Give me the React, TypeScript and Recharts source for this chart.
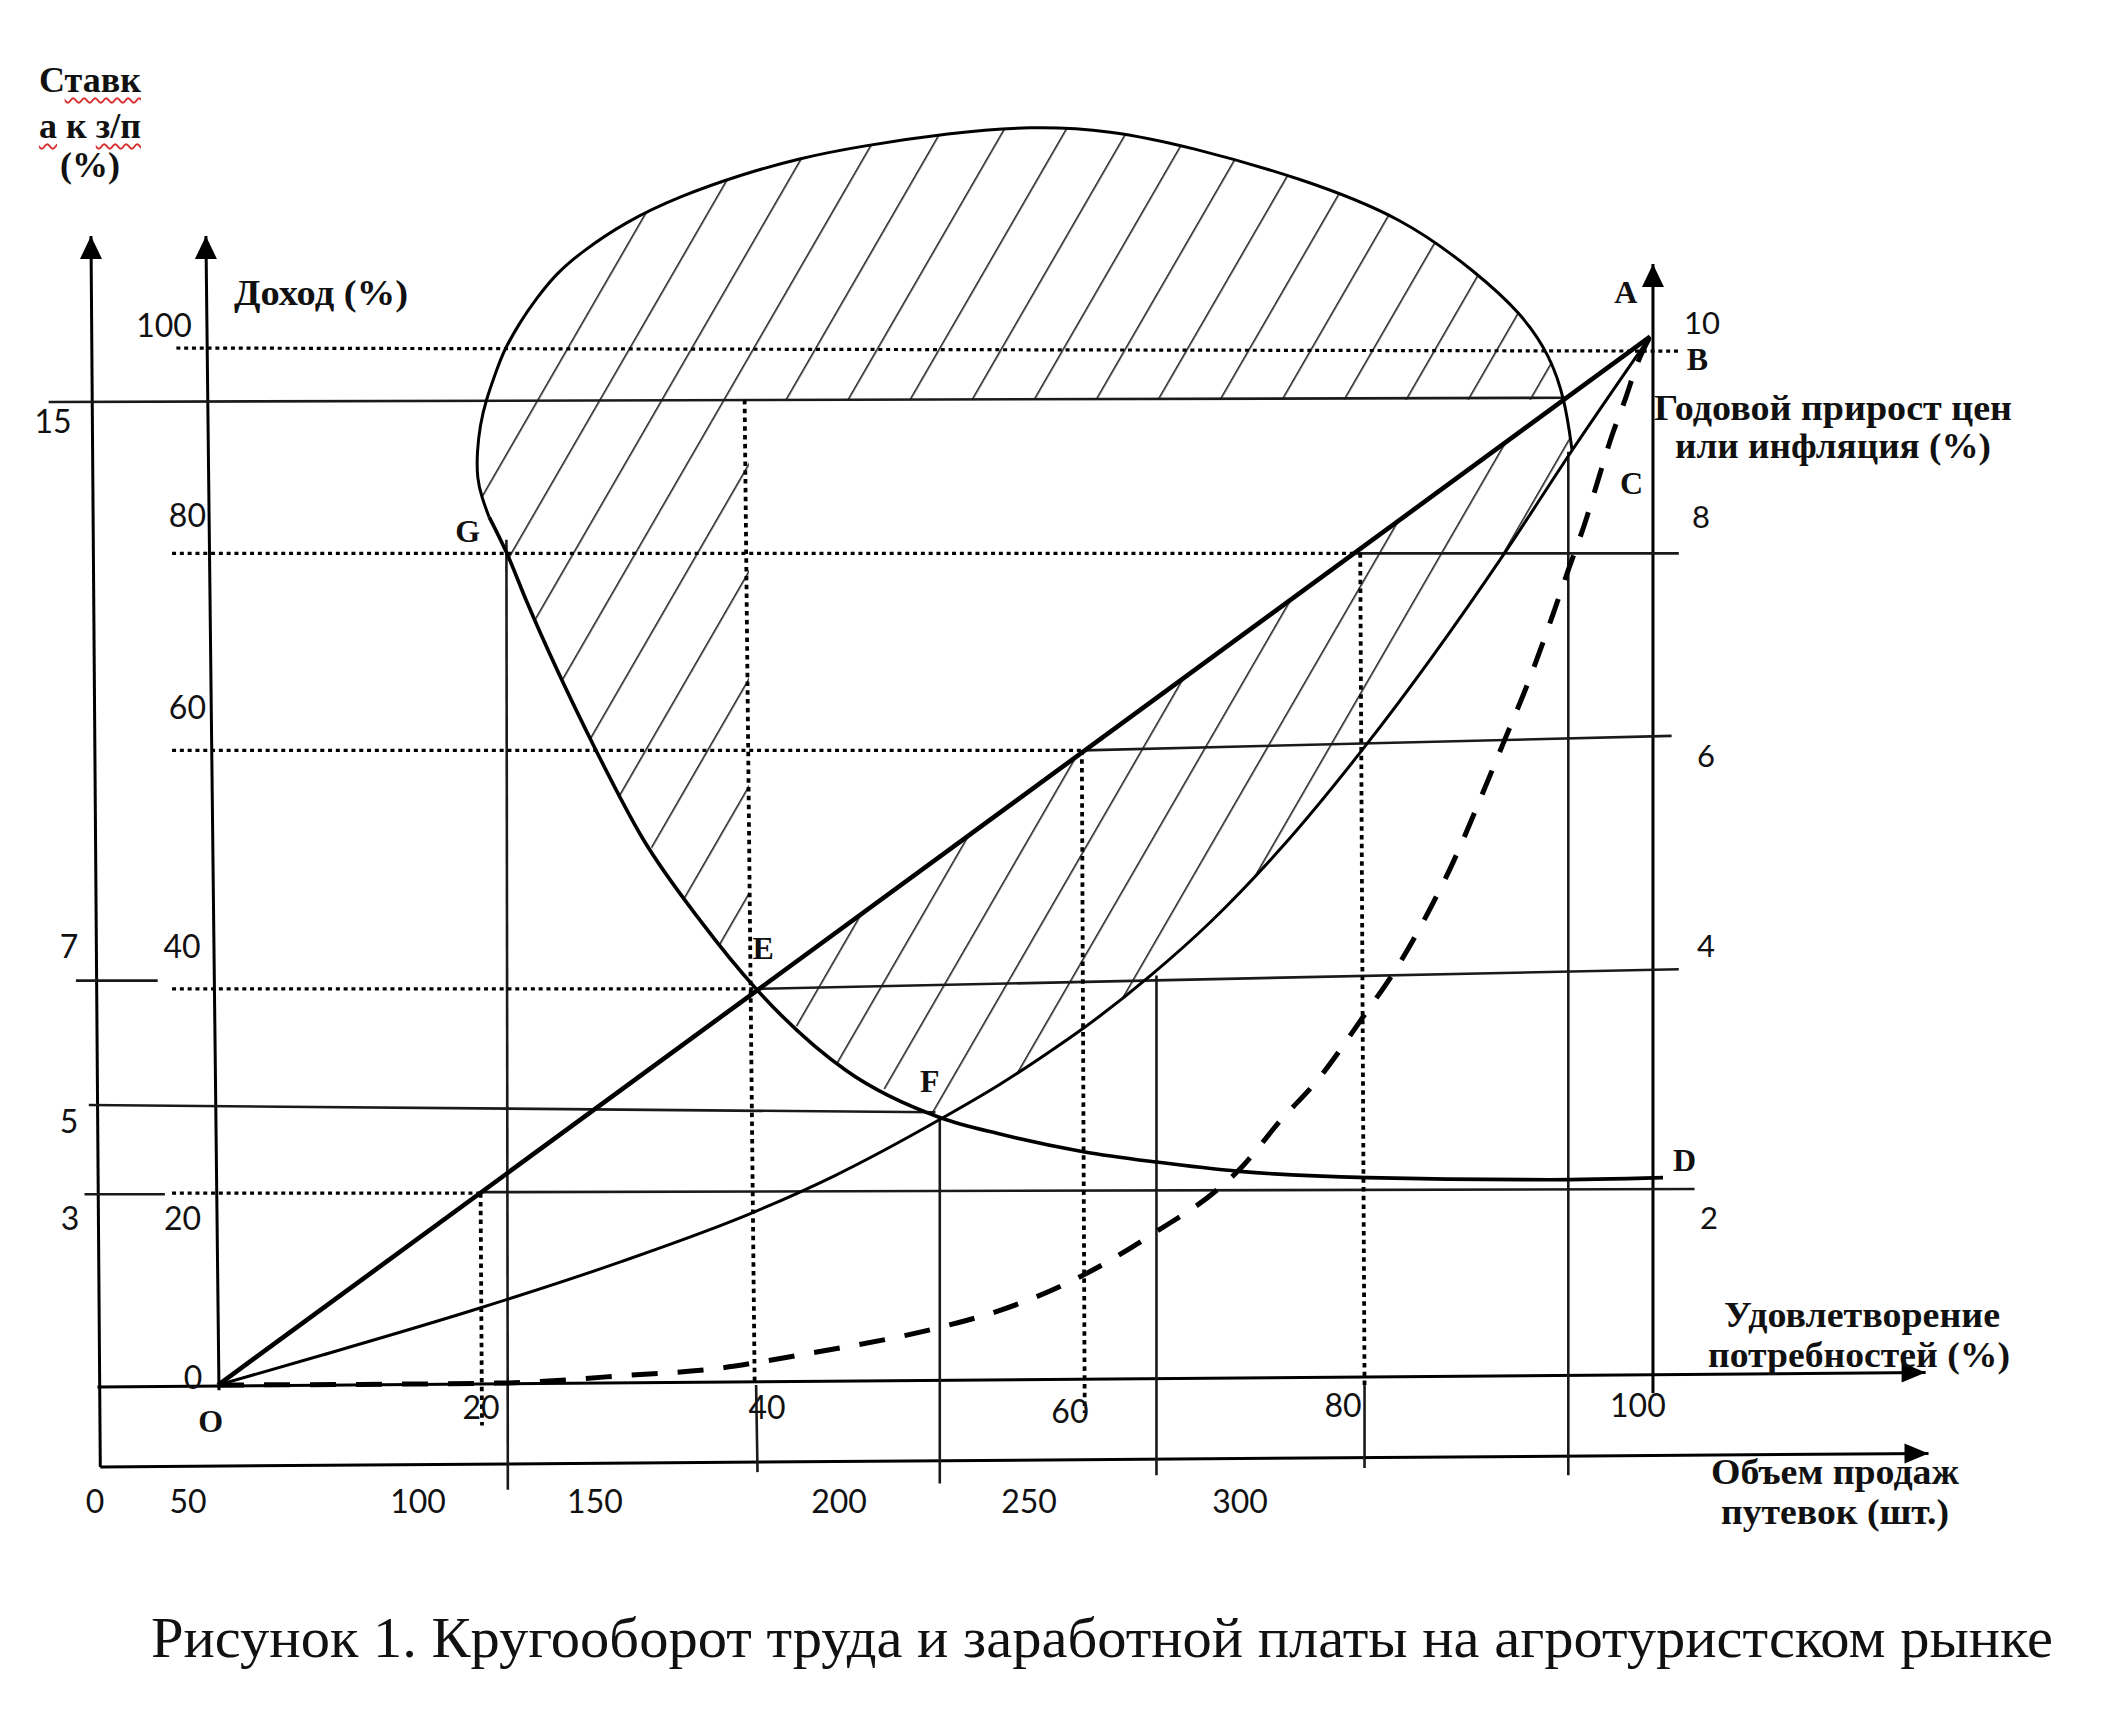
import React from 'react'
import { ComposedChart, XAxis, YAxis, Line, Area, Scatter, ReferenceLine } from 'recharts'

const W = 2105
const H = 1709
// drawing window in chart units: x = удовлетворение потребностей (%), y = доход (%)
const X_DOMAIN: [number, number] = [-15.19, 131.5]
const Y_DOMAIN: [number, number] = [-31.24, 133.56]

// O – A, straight
const lineOA = [{ x: 0, y: 0 }, { x: 99.8, y: 101.1 }]

// O – F – C – A
const curveOFA = [
  { x: 0, y: 0 }, { x: 6.8, y: 2.7 }, { x: 18.2, y: 7.4 }, { x: 28.1, y: 11.9 },
  { x: 37.4, y: 16.7 }, { x: 43.0, y: 20.2 }, { x: 50.3, y: 25.6 }, { x: 54.5, y: 29.0 },
  { x: 57.7, y: 31.9 }, { x: 60.3, y: 34.4 }, { x: 65.0, y: 39.5 }, { x: 69.2, y: 44.7 },
  { x: 74.1, y: 51.8 }, { x: 80.0, y: 61.7 }, { x: 89.6, y: 80.1 }, { x: 94.3, y: 90.0 },
  { x: 99.8, y: 101.1 },
]

// dashed O – B (inflation)
const curveDashed = [
  { x: 0, y: 0 }, { x: 20.1, y: 0.2 }, { x: 24.3, y: 0.5 }, { x: 28.1, y: 0.9 },
  { x: 34.8, y: 1.6 }, { x: 37.7, y: 2.2 }, { x: 40.6, y: 2.9 }, { x: 50.7, y: 5.7 },
  { x: 54.5, y: 7.2 }, { x: 60.3, y: 10.6 }, { x: 65.4, y: 14.8 }, { x: 69.7, y: 18.9 },
  { x: 71.2, y: 20.8 }, { x: 74.1, y: 25.6 }, { x: 76.5, y: 29.2 }, { x: 80.1, y: 36.1 },
  { x: 81.9, y: 39.7 }, { x: 83.8, y: 44.2 }, { x: 86.1, y: 50.5 }, { x: 88.2, y: 57.3 },
  { x: 89.6, y: 62.0 }, { x: 91.4, y: 68.1 }, { x: 93.0, y: 74.2 }, { x: 94.1, y: 78.6 },
  { x: 95.3, y: 83.3 }, { x: 96.2, y: 87.4 }, { x: 97.2, y: 91.8 }, { x: 98.0, y: 94.8 },
  { x: 99.0, y: 98.8 }, { x: 99.8, y: 101.1 },
]

// G – E – F – D
const curveGD = [
  { x: 18.9, y: 83.7 }, { x: 20.1, y: 80.3 }, { x: 21.5, y: 75.6 }, { x: 26.2, y: 61.6 },
  { x: 29.6, y: 52.7 }, { x: 33.6, y: 44.8 }, { x: 37.5, y: 38.2 }, { x: 43.8, y: 30.3 },
  { x: 50.3, y: 25.8 }, { x: 54.5, y: 24.2 }, { x: 60.3, y: 22.5 }, { x: 65.4, y: 21.5 },
  { x: 71.2, y: 20.6 }, { x: 80.1, y: 20.0 }, { x: 92.8, y: 19.8 }, { x: 100.7, y: 20.0 },
]

// the loop from G over the top down to the curve O–F–A
const loop = [
  { x: 18.89, y: 83.7 }, { x: 18.4, y: 85.54 }, { x: 18.05, y: 87.37 }, { x: 18.05, y: 89.97 },
  { x: 18.26, y: 92.57 }, { x: 18.68, y: 94.99 }, { x: 19.37, y: 97.69 }, { x: 19.93, y: 99.81 },
  { x: 21.05, y: 102.51 }, { x: 22.16, y: 104.73 }, { x: 23.55, y: 107.14 }, { x: 25.23, y: 109.16 },
  { x: 28.36, y: 112.15 }, { x: 32.2, y: 114.66 }, { x: 36.59, y: 116.78 }, { x: 40.56, y: 118.32 },
  { x: 44.81, y: 119.48 }, { x: 50.94, y: 120.73 }, { x: 56.59, y: 121.41 }, { x: 62.16, y: 121.02 },
  { x: 67.8, y: 119.38 }, { x: 75.47, y: 116.39 }, { x: 82.65, y: 112.54 }, { x: 87.74, y: 107.23 },
  { x: 90.8, y: 103.38 }, { x: 92.82, y: 99.32 }, { x: 93.87, y: 94.98 }, { x: 94.36, y: 90.16 },
]

// hatched zones as [low, high]
const hatchTop = [
  { x: 18.05, r: [87.4, 90.0] }, { x: 18.26, r: [86.3, 92.6] }, { x: 18.68, r: [84.5, 95.0] },
  { x: 18.89, r: [83.7, 95.8] }, { x: 19.37, r: [82.4, 97.7] }, { x: 19.93, r: [80.8, 99.8] },
  { x: 21.05, r: [77.1, 102.5] }, { x: 22.16, r: [73.8, 104.7] }, { x: 23.83, r: [68.8, 107.5] },
  { x: 25.57, r: [63.5, 109.5] }, { x: 28.36, r: [56.0, 112.1] }, { x: 31.01, r: [50.0, 113.9] },
  { x: 33.59, r: [44.8, 115.3] }, { x: 36.59, r: [39.7, 116.7] }, { x: 37.0, r: [39.1, 116.9] },
  { x: 37.0, r: [95.0, 116.9] }, { x: 40.56, r: [95.0, 118.2] }, { x: 44.81, r: [95.0, 119.4] },
  { x: 50.94, r: [95.0, 120.6] }, { x: 56.59, r: [95.0, 121.3] }, { x: 62.16, r: [95.0, 120.9] },
  { x: 67.8, r: [95.0, 119.3] }, { x: 75.47, r: [95.0, 116.3] }, { x: 82.65, r: [95.0, 112.4] },
  { x: 87.74, r: [95.0, 107.1] }, { x: 90.8, r: [95.0, 103.3] }, { x: 92.82, r: [95.0, 99.3] },
  { x: 93.87, r: [95.0, 95.0] },
]
const hatchStrip = [
  { x: 37.49, r: [38.2, 38.2] }, { x: 40.56, r: [34.3, 41.1] }, { x: 43.83, r: [30.3, 44.4] },
  { x: 47.53, r: [27.8, 48.1] }, { x: 50.31, r: [25.8, 50.9] }, { x: 54.49, r: [29.0, 55.2] },
  { x: 60.35, r: [34.4, 61.1] }, { x: 65.02, r: [39.5, 65.9] }, { x: 69.2, r: [44.7, 70.1] },
  { x: 74.08, r: [51.8, 75.0] }, { x: 80.0, r: [61.7, 81.0] }, { x: 84.81, r: [70.9, 85.9] },
  { x: 89.62, r: [80.1, 90.7] }, { x: 92.13, r: [85.3, 93.2] }, { x: 93.66, r: [88.5, 94.9] },
  { x: 94.29, r: [90.0, 90.0] },
]

// [x1, y1, x2, y2]
const axisLines = [
  [-8.2, -7.9, -8.85, 110.8],
  [0.07, -0.5, -0.84, 110.8],
  [100, -0.8, 100, 108.1],
  [-8.4, -0.2, 119.0, 1.2],
  [-8.2, -7.9, 119.2, -6.6],
]
const solidLines = [
  [-11.8, 94.8, 93.9, 95.2],
  [79.3, 80.2, 101.8, 80.2],
  [60.3, 61.2, 101.3, 62.6],
  [37.5, 38.2, 101.8, 40.1],
  [18.3, 18.6, 102.9, 18.9],
  [-9.0, 27.0, 50.0, 26.3],
  [-9.9, 39.0, -4.2, 39.0],
  [-9.3, 18.4, -3.7, 18.4],
  [20.1, 81.5, 20.2, -10.1],
  [37.5, 0, 37.6, -8.4],
  [50.3, 25.8, 50.3, -9.5],
  [65.4, 39.5, 65.4, -8.7],
  [79.9, 0, 79.9, -8.0],
  [94.1, 90.0, 94.1, -8.7],
]
const dottedH = [
  [-2.9, 100, 101.8, 99.7],
  [-3.2, 80.2, 79.3, 80.2],
  [-3.2, 61.2, 60.3, 61.2],
  [-3.2, 38.2, 37.5, 38.2],
  [-3.2, 18.5, 18.3, 18.5],
]
const dottedV = [
  [18.3, 18.5, 18.4, -3.9],
  [36.7, 95.0, 37.4, 0],
  [60.2, 61.2, 60.4, -2.7],
  [79.6, 80.2, 79.9, 0],
]
const arrowTips = [
  { x: -8.85, y: 110.8, d: 'up' },
  { x: -0.84, y: 110.8, d: 'up' },
  { x: 100, y: 108.1, d: 'up' },
  { x: 119.0, y: 1.2, d: 'right' },
  { x: 119.2, y: -6.6, d: 'right' },
]

// tick labels (where they sit on the drawing)
const incomeTicks = [
  { t: '100', x: -3.76, y: 102.3 }, { t: '80', x: -2.13, y: 83.9 }, { t: '60', x: -2.13, y: 65.4 },
  { t: '40', x: -2.51, y: 42.4 }, { t: '20', x: -2.47, y: 16.2 }, { t: '0', x: -1.74, y: 0.8 },
]
const rateTicks = [
  { t: '15', x: -11.5, y: 93.0 }, { t: '7', x: -10.38, y: 42.4 },
  { t: '5', x: -10.38, y: 25.5 }, { t: '3', x: -10.31, y: 16.2 },
]
const inflationTicks = [
  { t: '10', x: 103.41, y: 102.5 }, { t: '8', x: 103.34, y: 83.8 }, { t: '6', x: 103.69, y: 60.8 },
  { t: '4', x: 103.69, y: 42.4 }, { t: '2', x: 103.9, y: 16.2 },
]
const needTicks = [
  { t: '20', x: 18.33, y: -2.1 }, { t: '40', x: 38.26, y: -2.1 }, { t: '60', x: 59.37, y: -2.5 },
  { t: '80', x: 78.4, y: -1.9 }, { t: '100', x: 98.95, y: -1.9 },
]
const salesTicks = [
  { t: '0', x: -8.57, y: -11.09 }, { t: '50', x: -2.09, y: -11.09 }, { t: '100', x: 13.94, y: -11.09 },
  { t: '150', x: 26.27, y: -11.09 }, { t: '200', x: 43.28, y: -11.09 }, { t: '250', x: 56.52, y: -11.09 },
  { t: '300', x: 71.22, y: -11.09 },
]
const pointNames = [
  { t: 'A', x: 98.1, y: 105.4 }, { t: 'B', x: 103.1, y: 98.9 }, { t: 'C', x: 98.5, y: 87.0 },
  { t: 'D', x: 102.2, y: 21.7 }, { t: 'E', x: 38.0, y: 42.1 }, { t: 'F', x: 49.6, y: 29.3 },
  { t: 'G', x: 17.4, y: 82.4 }, { t: 'O', x: -0.5, y: -3.5 },
]

const NUM_FONT = "Lato, 'Open Sans', sans-serif"
const SERIF = "'Liberation Serif', 'Times New Roman', serif"

const textShape = (family: string, size: number, weight: number) => (p: any) => (
  <text x={p.cx} y={p.cy} textAnchor="middle" dominantBaseline="central"
    fontFamily={family} fontSize={size} fontWeight={weight} fill="#111">{p.payload.t}</text>
)

const Arrow = (p: any) => {
  const { cx, cy, payload } = p
  if (payload.d === 'up') {
    return <polygon points={`${cx},${cy} ${cx - 11},${cy + 23} ${cx + 11},${cy + 23}`} fill="#000" />
  }
  return <polygon points={`${cx},${cy} ${cx - 24},${cy - 10} ${cx - 24},${cy + 10}`} fill="#000" />
}

const seg = (s: number[]) => [{ x: s[0], y: s[1] }, { x: s[2], y: s[3] }]

const wavy: React.CSSProperties = {
  textDecorationLine: 'underline', textDecorationStyle: 'wavy',
  textDecorationColor: '#d83030', textDecorationThickness: '1.5px', textUnderlineOffset: '5px',
}
const titleLine = (top: number): React.CSSProperties => ({
  position: 'absolute', left: -10, width: 200, top: top - 18, height: 36, lineHeight: '36px',
  textAlign: 'center', fontFamily: SERIF, fontWeight: 700, fontSize: 36, color: '#111', whiteSpace: 'nowrap',
})

export default function App() {
  const boldText = { fontFamily: SERIF, fontWeight: 700, fontSize: 36, fill: '#111' }
  return (
    <div style={{ position: 'absolute', left: 0, top: 0, width: W, height: H, background: '#fff' }}>
      <ComposedChart width={W} height={H} margin={{ top: 0, right: 0, bottom: 0, left: 0 }}>
        <defs>
          <pattern id="hatch" patternUnits="userSpaceOnUse" width={53.7} height={20}
            patternTransform="translate(505 348) rotate(30)">
            <rect x={0} y={0} width={1.6} height={20} fill="#222" />
          </pattern>
        </defs>
        <XAxis type="number" dataKey="x" domain={X_DOMAIN} hide height={0} allowDataOverflow />
        <YAxis type="number" dataKey="y" domain={Y_DOMAIN} hide width={0} allowDataOverflow />

        <Area data={hatchTop} dataKey="r" type="linear" stroke="none" fill="url(#hatch)" fillOpacity={1}
          dot={false} activeDot={false} isAnimationActive={false} />
        <Area data={hatchStrip} dataKey="r" type="linear" stroke="none" fill="url(#hatch)" fillOpacity={1}
          dot={false} activeDot={false} isAnimationActive={false} />

        {axisLines.map((s, i) => (
          <ReferenceLine key={'a' + i} segment={seg(s)} stroke="#000" strokeWidth={3} ifOverflow="visible" />
        ))}
        {solidLines.map((s, i) => (
          <ReferenceLine key={'s' + i} segment={seg(s)} stroke="#1a1a1a" strokeWidth={2.6} ifOverflow="visible" />
        ))}
        {dottedH.map((s, i) => (
          <ReferenceLine key={'h' + i} segment={seg(s)} stroke="#000" strokeWidth={3.2}
            strokeDasharray="4 3.8" ifOverflow="visible" />
        ))}
        {dottedV.map((s, i) => (
          <ReferenceLine key={'v' + i} segment={seg(s)} stroke="#000" strokeWidth={3.8}
            strokeDasharray="4.5 4.3" ifOverflow="visible" />
        ))}

        <Line data={loop} dataKey="y" type="basis" stroke="#000" strokeWidth={3}
          dot={false} activeDot={false} isAnimationActive={false} />
        <Line data={curveGD} dataKey="y" type="monotone" stroke="#000" strokeWidth={3.6}
          dot={false} activeDot={false} isAnimationActive={false} />
        <Line data={curveOFA} dataKey="y" type="monotone" stroke="#000" strokeWidth={3}
          dot={false} activeDot={false} isAnimationActive={false} />
        <Line data={curveDashed} dataKey="y" type="monotone" stroke="#000" strokeWidth={5}
          strokeDasharray="26 20" dot={false} activeDot={false} isAnimationActive={false} />
        <Line data={lineOA} dataKey="y" type="linear" stroke="#000" strokeWidth={4.6}
          dot={false} activeDot={false} isAnimationActive={false} />

        <Scatter data={arrowTips} shape={Arrow} isAnimationActive={false} />
        <Scatter data={incomeTicks} shape={textShape(NUM_FONT, 32, 400)} isAnimationActive={false} />
        <Scatter data={rateTicks} shape={textShape(NUM_FONT, 32, 400)} isAnimationActive={false} />
        <Scatter data={inflationTicks} shape={textShape(NUM_FONT, 31, 400)} isAnimationActive={false} />
        <Scatter data={needTicks} shape={textShape(NUM_FONT, 32, 400)} isAnimationActive={false} />
        <Scatter data={salesTicks} shape={textShape(NUM_FONT, 32, 400)} isAnimationActive={false} />
        <Scatter data={pointNames} shape={textShape(SERIF, 32, 700)} isAnimationActive={false} />
      </ComposedChart>

      <svg width={W} height={H} style={{ position: 'absolute', left: 0, top: 0, pointerEvents: 'none' }}>
        <text x={321} y={293} textAnchor="middle" dominantBaseline="central" {...boldText}
          textLength={174} lengthAdjust="spacingAndGlyphs">Доход (%)</text>
        <text x={1833} y={408} textAnchor="middle" dominantBaseline="central" {...boldText}
          textLength={358} lengthAdjust="spacingAndGlyphs">Годовой прирост цен</text>
        <text x={1833} y={446} textAnchor="middle" dominantBaseline="central" {...boldText}
          textLength={316} lengthAdjust="spacingAndGlyphs">или инфляция (%)</text>
        <text x={1862} y={1315} textAnchor="middle" dominantBaseline="central" {...boldText}
          textLength={276} lengthAdjust="spacingAndGlyphs">Удовлетворение</text>
        <text x={1859} y={1355} textAnchor="middle" dominantBaseline="central" {...boldText}
          textLength={302} lengthAdjust="spacingAndGlyphs">потребностей (%)</text>
        <text x={1835} y={1472} textAnchor="middle" dominantBaseline="central" {...boldText}
          textLength={248} lengthAdjust="spacingAndGlyphs">Объем продаж</text>
        <text x={1835} y={1512} textAnchor="middle" dominantBaseline="central" {...boldText}
          textLength={228} lengthAdjust="spacingAndGlyphs">путевок (шт.)</text>
        <text x={1102} y={1637} textAnchor="middle" dominantBaseline="central"
          fontFamily={SERIF} fontSize={58} fill="#111" textLength={1902} lengthAdjust="spacingAndGlyphs">
          Рисунок 1. Кругооборот труда и заработной платы на агротуристском рынке
        </text>
      </svg>

      <div style={titleLine(80)}>С<span style={wavy}>тавк</span></div>
      <div style={titleLine(126)}><span style={wavy}>а</span> к <span style={wavy}>з/п</span></div>
      <div style={titleLine(165)}>(%)</div>
    </div>
  )
}
